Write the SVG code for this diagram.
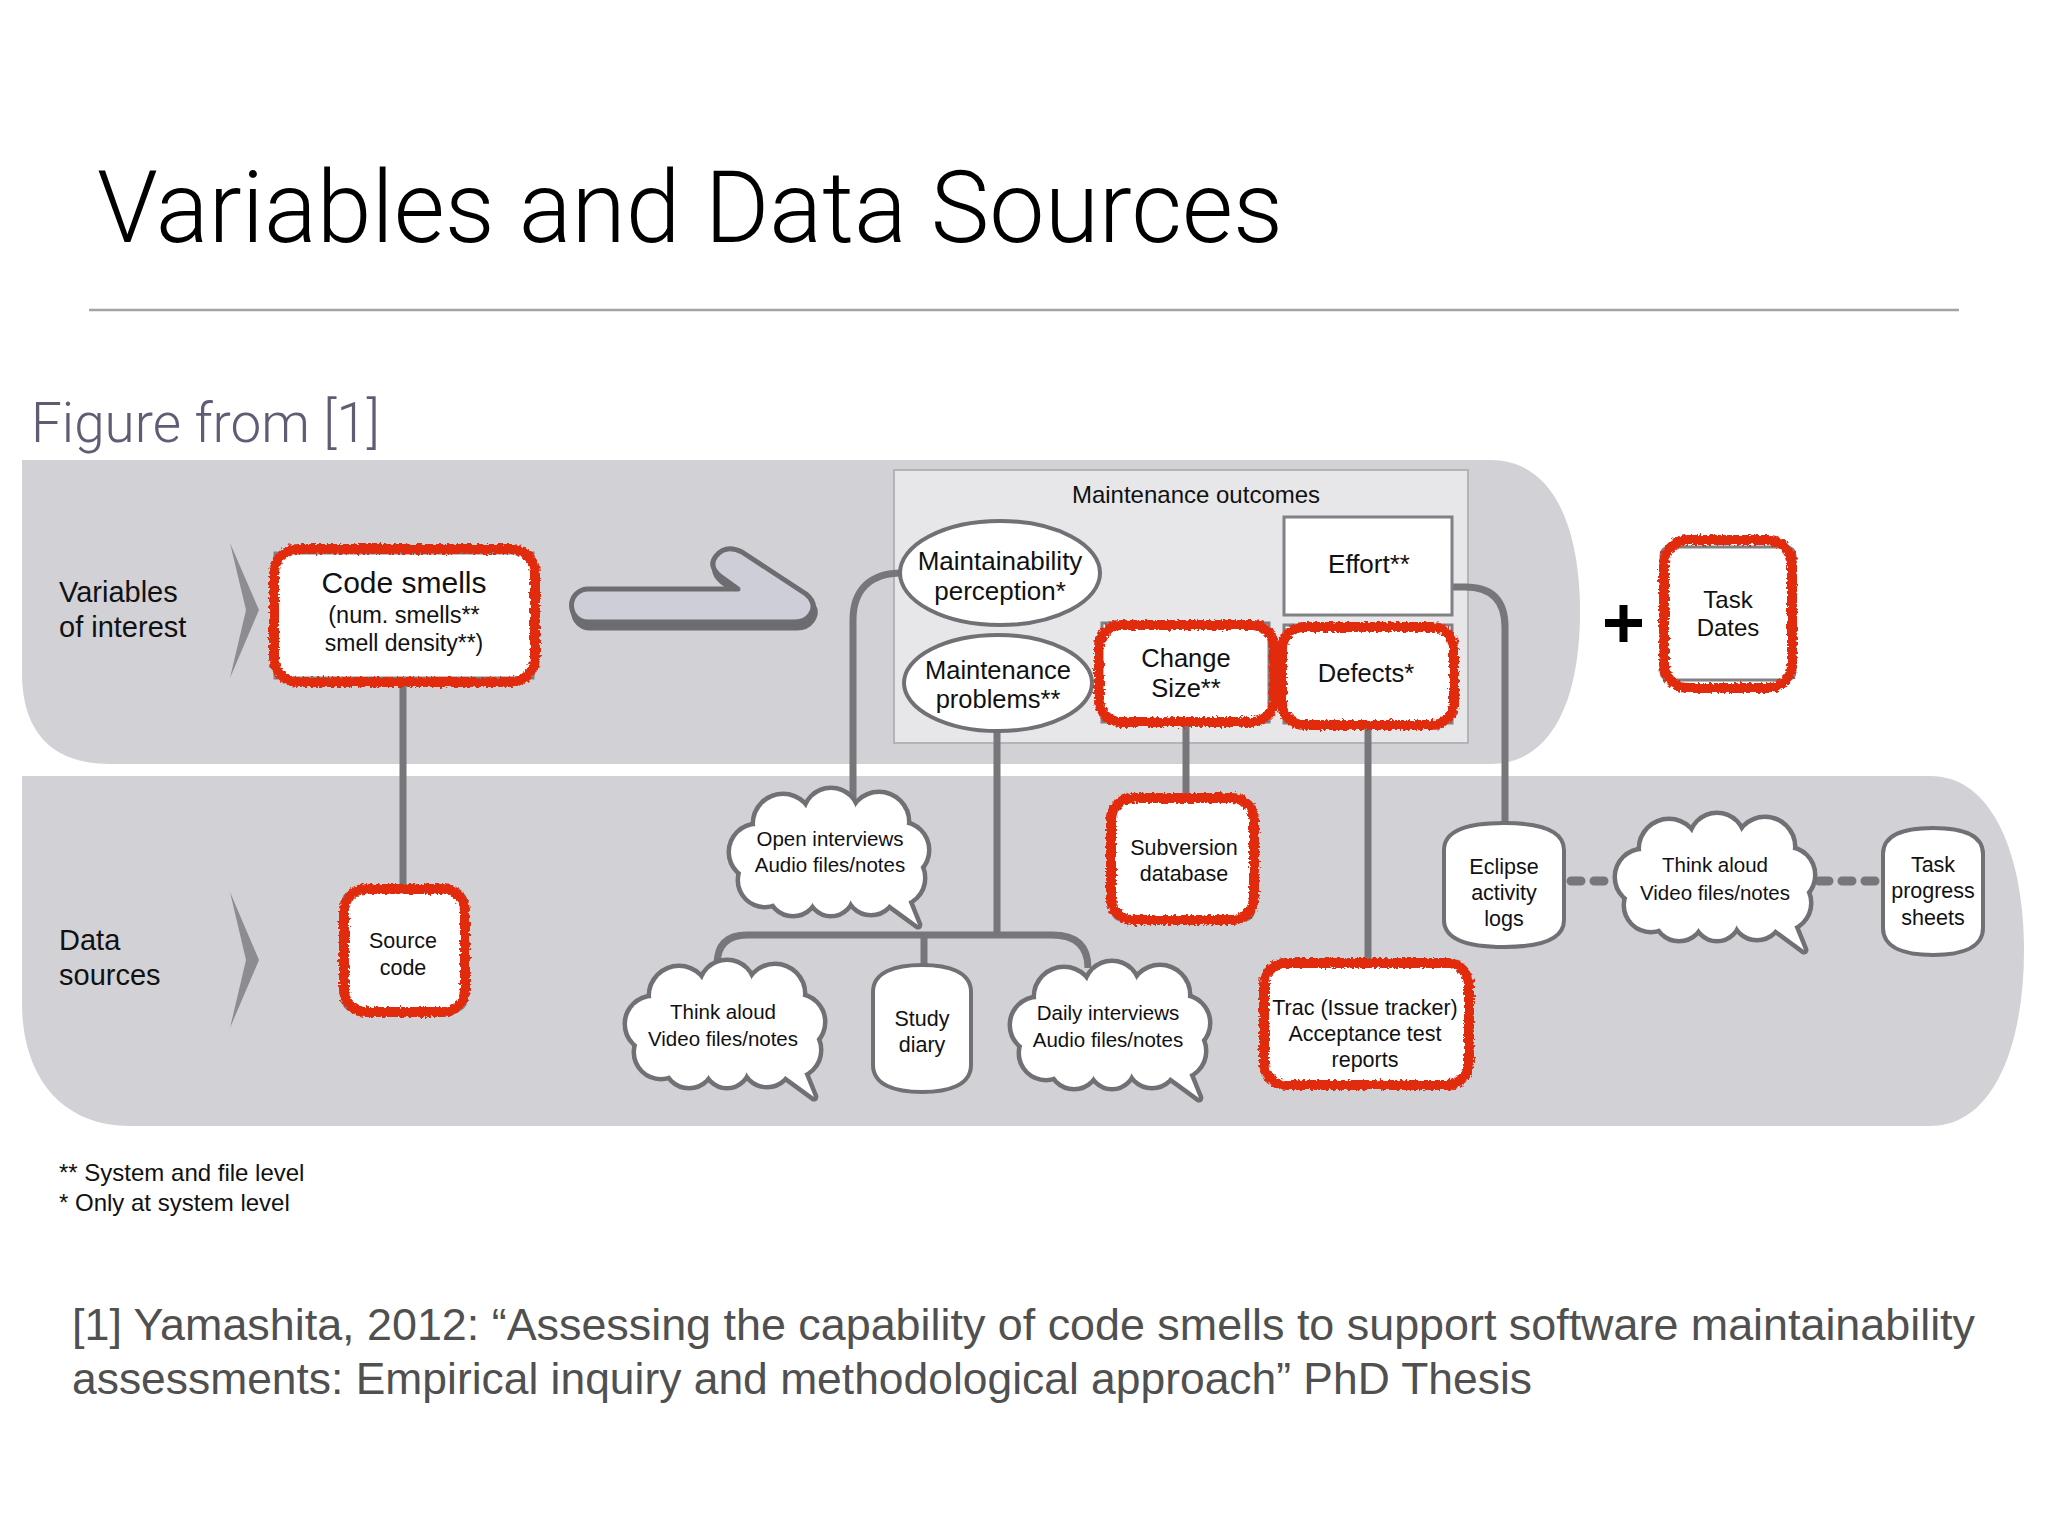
<svg xmlns="http://www.w3.org/2000/svg" xmlns:xlink="http://www.w3.org/1999/xlink" width="2048" height="1536" viewBox="0 0 2048 1536">
<style>
  .t { font-family: "Liberation Sans", Arial, sans-serif; fill: #111; }
  .c { text-anchor: middle; }
  .band { fill: #d2d2d6; }
  .conn { fill: none; stroke: #76767b; stroke-width: 7; }
  .dash { fill: none; stroke: #76767b; stroke-width: 9; stroke-dasharray: 10 13; stroke-linecap: round; }
  .box { fill: #fff; stroke: #808085; stroke-width: 3; }
  .node { fill: #fff; stroke: #707075; stroke-width: 4; }
  .red { fill: none; stroke: #e22a10; stroke-width: 10; filter: url(#rough); }
  .cloud-o { fill: #707075; stroke: #707075; stroke-width: 9; stroke-linejoin: round; }
  .cloud-f { fill: #fff; stroke: none; }
</style>
<defs>
  <filter id="rough" x="-10%" y="-10%" width="120%" height="120%">
    <feTurbulence type="fractalNoise" baseFrequency="0.35" numOctaves="2" seed="3" result="n"/>
    <feDisplacementMap in="SourceGraphic" in2="n" scale="6" xChannelSelector="R" yChannelSelector="G"/>
  </filter>
  <g id="cloud">
    <ellipse cx="98" cy="64" rx="84" ry="48"/>
    <circle cx="52" cy="34" r="28"/>
    <circle cx="100" cy="26" r="26"/>
    <circle cx="148" cy="32" r="28"/>
    <circle cx="26" cy="62" r="26"/>
    <circle cx="34" cy="90" r="25"/>
    <circle cx="62" cy="101" r="23"/>
    <circle cx="100" cy="103" r="21"/>
    <circle cx="140" cy="100" r="23"/>
    <circle cx="170" cy="60" r="26"/>
    <circle cx="166" cy="88" r="26"/>
    <polygon points="150,108 187,135 172,98"/>
  </g>
</defs>
<rect width="2048" height="1536" fill="#fff"/>

<text class="t" x="97" y="242" font-size="100" textLength="1186" lengthAdjust="spacingAndGlyphs" style="font-family: Roboto, 'Liberation Sans', sans-serif; font-weight:300; fill:#000">Variables and Data Sources</text>
<line x1="89" y1="310" x2="1959" y2="310" stroke="#a3a3a3" stroke-width="2.5"/>
<text class="t" x="31" y="442" font-size="56" textLength="349" lengthAdjust="spacingAndGlyphs" style="font-family: Roboto, 'Liberation Sans', sans-serif; font-weight:300; fill:#5f5c74">Figure from [1]</text>

<g id="bands">
  <path class="band" d="M22,460 H1490 C1555,460 1580,530 1580,612 C1580,694 1555,764 1490,764 H110 C50,764 22,730 22,673 Z"/>
  <path class="band" d="M22,776 H1930 C1995,776 2024,860 2024,951 C2024,1042 1995,1126 1930,1126 H130 C60,1126 22,1075 22,1003 Z"/>
  <polygon points="230,543 259,610 230,678 246,610" fill="#8c8c92"/>
  <polygon points="230,892 259,960 230,1028 246,960" fill="#8c8c92"/>
  <text class="t" x="59" y="602" font-size="29">Variables</text>
  <text class="t" x="59" y="637" font-size="29">of interest</text>
  <text class="t" x="59" y="950" font-size="29">Data</text>
  <text class="t" x="59" y="985" font-size="29">sources</text>
</g>

<g id="maintenance-outcomes">
  <rect x="894" y="470" width="574" height="273" fill="#e7e7e9" stroke="#b4b4b8" stroke-width="2"/>
  <text class="t c" x="1196" y="503" font-size="24">Maintenance outcomes</text>
</g>

<g id="connectors">
  <path class="conn" d="M403,684 V892"/>
  <path class="conn" d="M902,573 C870,573 853,590 853,620 V800"/>
  <path class="conn" d="M997,731 V935"/>
  <path class="conn" d="M717,970 V965 Q717,935 747,935 H1052 Q1088,935 1088,968"/>
  <path class="conn" d="M924,935 V968"/>
  <path class="conn" d="M1186,722 V802"/>
  <path class="conn" d="M1368,726 V966"/>
  <path class="conn" d="M1452,587 H1465 Q1505,587 1505,627 V826"/>
  <path class="dash" d="M1571,881 H1612"/>
  <path class="dash" d="M1819,881 H1880"/>
</g>

<g id="arrow">
  <path transform="translate(2,6)" d="M588,589 H738 L720,576 Q708,566 716,556 Q726,544 742,552 L806,594 Q818,604 810,615 Q805,622 795,622 H588 A16.5,16.5 0 0 1 588,589 Z" fill="#6c6c71" stroke="#6c6c71" stroke-width="5"/>
  <path d="M588,589 H738 L720,576 Q708,566 716,556 Q726,544 742,552 L806,594 Q818,604 810,615 Q805,622 795,622 H588 A16.5,16.5 0 0 1 588,589 Z" fill="#cdced7" stroke="#6c6c71" stroke-width="5" stroke-linejoin="round"/>
</g>

<g id="code-smells">
  <rect class="box" x="275" y="553" width="258" height="125"/>
  <rect class="red" x="274" y="549" width="261" height="133" rx="24"/>
  <text class="t c" x="404" y="593" font-size="30">Code smells</text>
  <text class="t c" x="404" y="623" font-size="23.5">(num. smells**</text>
  <text class="t c" x="404" y="651" font-size="23">smell density**)</text>
</g>

<g id="maintainability-perception">
  <ellipse class="node" cx="1000" cy="573" rx="100" ry="52" stroke-width="2.5" stroke="#7a7a7f"/>
  <text class="t c" x="1000" y="570" font-size="26">Maintainability</text>
  <text class="t c" x="1000" y="600" font-size="26">perception*</text>
</g>

<g id="maintenance-problems">
  <ellipse class="node" cx="998" cy="683" rx="94" ry="48" stroke-width="2.5" stroke="#7a7a7f"/>
  <text class="t c" x="998" y="679" font-size="25.5">Maintenance</text>
  <text class="t c" x="998" y="708" font-size="25.5">problems**</text>
</g>

<g id="effort">
  <rect class="box" x="1284" y="517" width="168" height="98" stroke="#77777c"/>
  <text class="t c" x="1369" y="573" font-size="26">Effort**</text>
</g>

<g id="change-size">
  <rect class="box" x="1102" y="623" width="167" height="99"/>
  <rect class="red" x="1099" y="625" width="175" height="97" rx="22"/>
  <text class="t c" x="1186" y="667" font-size="25.5">Change</text>
  <text class="t c" x="1186" y="697" font-size="25.5">Size**</text>
</g>

<g id="defects">
  <rect class="box" x="1284" y="625" width="168" height="98"/>
  <rect class="red" x="1282" y="627" width="172" height="98" rx="22"/>
  <text class="t c" x="1366" y="682" font-size="25.5">Defects*</text>
</g>

<g id="plus">
  <path d="M1605,623 H1642 M1623.5,605 V642" stroke="#000" stroke-width="8" fill="none"/>
</g>

<g id="task-dates">
  <rect class="box" x="1661" y="547" width="134" height="133" rx="8" stroke="#8a8a8f" stroke-width="4"/>
  <rect class="red" x="1664" y="540" width="128" height="148" rx="24"/>
  <text class="t c" x="1728" y="608" font-size="24">Task</text>
  <text class="t c" x="1728" y="636" font-size="24">Dates</text>
</g>

<g id="source-code">
  <rect class="box" x="343" y="892" width="123" height="118" rx="10"/>
  <rect class="red" x="344" y="889" width="121" height="123" rx="22"/>
  <text class="t c" x="403" y="948" font-size="21.5">Source</text>
  <text class="t c" x="403" y="975" font-size="21.5">code</text>
</g>

<g id="open-interviews">
  <use xlink:href="#cloud" href="#cloud" class="cloud-o" transform="translate(731,790)"/>
  <use xlink:href="#cloud" href="#cloud" class="cloud-f" transform="translate(731,790)"/>
  <text class="t c" x="830" y="846" font-size="20.5">Open interviews</text>
  <text class="t c" x="830" y="872" font-size="20.5">Audio files/notes</text>
</g>

<g id="think-aloud-1">
  <use xlink:href="#cloud" href="#cloud" class="cloud-o" transform="translate(627,962)"/>
  <use xlink:href="#cloud" href="#cloud" class="cloud-f" transform="translate(627,962)"/>
  <text class="t c" x="723" y="1019" font-size="20.5">Think aloud</text>
  <text class="t c" x="723" y="1046" font-size="20.5">Video files/notes</text>
</g>

<g id="study-diary">
  <path class="node" d="M873,992 C873,972 895,965 922,965 C949,965 971,972 971,992 V1065 C971,1085 949,1092 922,1092 C895,1092 873,1085 873,1065 Z"/>
  <text class="t c" x="922" y="1026" font-size="21.5">Study</text>
  <text class="t c" x="922" y="1052" font-size="21.5">diary</text>
</g>

<g id="daily-interviews">
  <use xlink:href="#cloud" href="#cloud" class="cloud-o" transform="translate(1012,963)"/>
  <use xlink:href="#cloud" href="#cloud" class="cloud-f" transform="translate(1012,963)"/>
  <text class="t c" x="1108" y="1020" font-size="20.5">Daily interviews</text>
  <text class="t c" x="1108" y="1047" font-size="20.5">Audio files/notes</text>
</g>

<g id="subversion">
  <rect class="box" x="1112" y="800" width="142" height="120" rx="10"/>
  <rect class="red" x="1111" y="798" width="143" height="122" rx="22"/>
  <text class="t c" x="1184" y="855" font-size="21.5">Subversion</text>
  <text class="t c" x="1184" y="881" font-size="21.5">database</text>
</g>

<g id="trac">
  <rect class="box" x="1266" y="965" width="201" height="118" rx="10"/>
  <rect class="red" x="1264" y="963" width="205" height="122" rx="22"/>
  <text class="t c" x="1365" y="1015" font-size="21.5">Trac (Issue tracker)</text>
  <text class="t c" x="1365" y="1041" font-size="21.5">Acceptance test</text>
  <text class="t c" x="1365" y="1067" font-size="21.5">reports</text>
</g>

<g id="eclipse">
  <path class="node" d="M1444,850 C1444,830 1470,823 1504,823 C1538,823 1564,830 1564,850 V920 C1564,940 1538,947 1504,947 C1470,947 1444,940 1444,920 Z"/>
  <text class="t c" x="1504" y="874" font-size="21.5">Eclipse</text>
  <text class="t c" x="1504" y="900" font-size="21.5">activity</text>
  <text class="t c" x="1504" y="926" font-size="21.5">logs</text>
</g>

<g id="think-aloud-2">
  <use xlink:href="#cloud" href="#cloud" class="cloud-o" transform="translate(1617,815)"/>
  <use xlink:href="#cloud" href="#cloud" class="cloud-f" transform="translate(1617,815)"/>
  <text class="t c" x="1715" y="872" font-size="20.5">Think aloud</text>
  <text class="t c" x="1715" y="900" font-size="20.5">Video files/notes</text>
</g>

<g id="task-progress">
  <path class="node" d="M1883,854 C1883,834 1905,828 1933,828 C1961,828 1983,834 1983,854 V928 C1983,948 1961,955 1933,955 C1905,955 1883,948 1883,928 Z"/>
  <text class="t c" x="1933" y="872" font-size="21.5">Task</text>
  <text class="t c" x="1933" y="898" font-size="21.5">progress</text>
  <text class="t c" x="1933" y="925" font-size="21.5">sheets</text>
</g>

<g id="footnotes">
  <text class="t" x="59" y="1181" font-size="24">** System and file level</text>
  <text class="t" x="59" y="1211" font-size="24">* Only at system level</text>
</g>

<g id="reference">
  <text class="t" x="72" y="1340" font-size="45" textLength="1903" lengthAdjust="spacingAndGlyphs" style="fill:#505050">[1] Yamashita, 2012: “Assessing the capability of code smells to support software maintainability</text>
  <text class="t" x="72" y="1394" font-size="45" textLength="1460" lengthAdjust="spacingAndGlyphs" style="fill:#505050">assessments: Empirical inquiry and methodological approach” PhD Thesis</text>
</g>
</svg>
